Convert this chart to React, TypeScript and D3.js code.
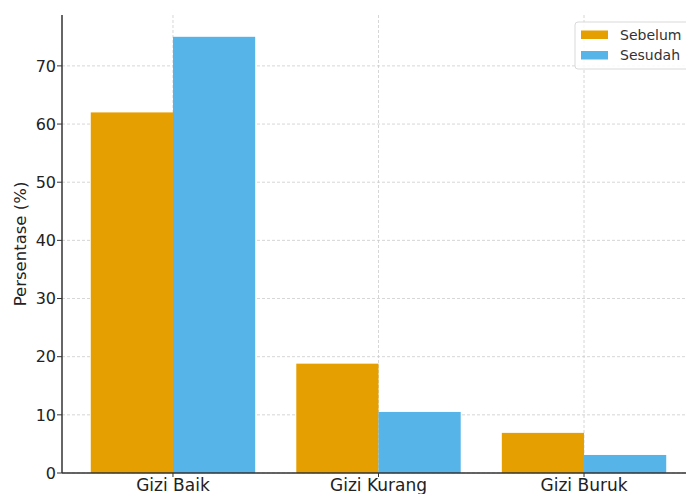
import React from "react";
import * as d3 from "d3";

const categories = ["Gizi Baik", "Gizi Kurang", "Gizi Buruk"];
const seriesNames = ["Sebelum", "Sesudah"];
const sebelum = [62, 18.8, 6.9];
const sesudah = [75, 10.5, 3.1];
const yTicks = [0, 10, 20, 30, 40, 50, 60, 70];
const colors = ["#E69F00", "#56B4E9"];

export default function App() {
  const W = 686, H = 494;
  const left = 62, right = 695, top = 15, bottom = 473;
  const x = d3.scaleLinear().domain([-0.54, 2.54]).range([left, right]);
  const y = d3.scaleLinear().domain([0, 78.75]).range([bottom, top]);
  const bw = 0.4;
  const series = [sebelum, sesudah];
  const font = "DejaVu Sans, sans-serif";
  return (
    <svg width={W} height={H} style={{ position: "absolute", left: 0, top: 0, background: "#fff" }} fontFamily={font}>
      {yTicks.map((t) => (
        <line key={"gy" + t} x1={left} x2={right} y1={y(t)} y2={y(t)} stroke="#cccccc" strokeWidth={0.8} strokeDasharray="3,2" />
      ))}
      {categories.map((c, i) => (
        <line key={"gx" + c} x1={x(i)} x2={x(i)} y1={top} y2={bottom} stroke="#cccccc" strokeWidth={0.8} strokeDasharray="3,2" />
      ))}
      {series.map((vals, s) =>
        vals.map((v, i) => {
          const x0 = x(i - bw + s * bw);
          const x1 = x(i + s * bw);
          return <rect key={s + "-" + i} x={x0} y={y(v)} width={x1 - x0} height={y(0) - y(v)} fill={colors[s]} />;
        })
      )}
      <line x1={left} x2={left} y1={top} y2={bottom} stroke="#333" strokeWidth={1.5} />
      <line x1={left} x2={right} y1={bottom} y2={bottom} stroke="#333" strokeWidth={1.5} />
      {yTicks.map((t) => (
        <g key={"yt" + t}>
          <line x1={left - 5} x2={left} y1={y(t)} y2={y(t)} stroke="#333" strokeWidth={1} />
          <text x={left - 6} y={y(t)} dy="0.36em" textAnchor="end" fontSize={16} fill="#222">{t}</text>
        </g>
      ))}
      {categories.map((c, i) => (
        <g key={"xt" + c}>
          <line x1={x(i)} x2={x(i)} y1={bottom} y2={bottom + 4} stroke="#333" strokeWidth={1} />
          <text x={x(i)} y={491} textAnchor="middle" fontSize={17} fill="#222">{c}</text>
        </g>
      ))}
      <text transform={`translate(26,${(top + bottom) / 2}) rotate(-90)`} textAnchor="middle" fontSize={16.5} fill="#222">Persentase (%)</text>
      <rect x={575} y={22} width={120} height={47} rx={3} fill="#fff" fillOpacity={0.85} stroke="#d9d9d9" strokeWidth={1} />
      {seriesNames.map((n, s) => (
        <g key={n}>
          <rect x={581} y={30.5 + s * 20.5} width={27} height={8.5} fill={colors[s]} />
          <text x={620} y={35 + s * 20.5} dy="0.35em" fontSize={14} fill="#333">{n}</text>
        </g>
      ))}
    </svg>
  );
}
